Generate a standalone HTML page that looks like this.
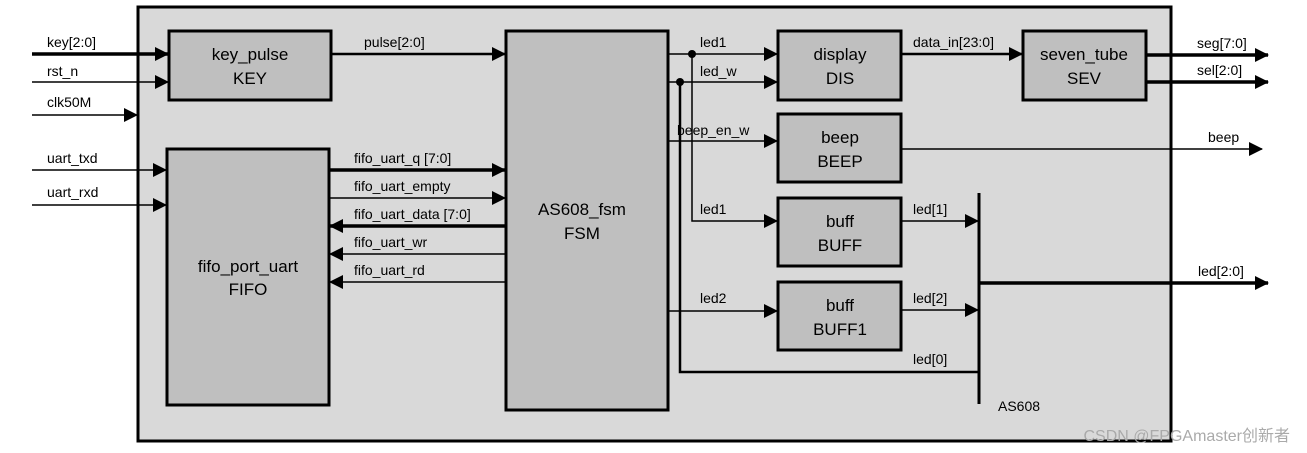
<!DOCTYPE html>
<html><head><style>body{margin:0;background:#fff}svg{display:block}text{font-family:"Liberation Sans","Noto Sans CJK SC",sans-serif}</style></head><body>
<svg width="1307" height="453" viewBox="0 0 1307 453">
<defs><marker id="a" markerWidth="10" markerHeight="10" refX="9" refY="5" orient="auto" markerUnits="userSpaceOnUse"><path d="M0,0L10,5L0,10z" fill="#000"/></marker>
<marker id="b" markerWidth="14" markerHeight="14" refX="13" refY="7" orient="auto" markerUnits="userSpaceOnUse"><path d="M0,0L14,7L0,14z" fill="#000"/></marker></defs>
<rect x="138" y="7" width="1033" height="434" fill="#d9d9d9" stroke="#000" stroke-width="3"/>
<g fill="#bfbfbf" stroke="#000" stroke-width="3">
<rect x="169" y="31" width="162" height="69"/><rect x="167" y="149" width="162" height="256"/><rect x="506" y="31" width="162" height="379"/>
<rect x="778" y="31" width="123" height="69"/><rect x="1023" y="31" width="123" height="69"/><rect x="778" y="114" width="123" height="68"/>
<rect x="778" y="198" width="123" height="68"/><rect x="778" y="282" width="123" height="68"/></g>
<g stroke="#000" fill="none">
<path d="M32,54H168" stroke-width="3.5" marker-end="url(#b)"/>
<path d="M32,82H168" stroke-width="1.5" marker-end="url(#b)"/>
<path d="M32,115H137" stroke-width="1.5" marker-end="url(#b)"/>
<path d="M32,170H166" stroke-width="1.5" marker-end="url(#b)"/>
<path d="M32,205H166" stroke-width="1.5" marker-end="url(#b)"/>
<path d="M331,54H505" stroke-width="2.5" marker-end="url(#b)"/>
<path d="M329,170H505" stroke-width="3.5" marker-end="url(#b)"/>
<path d="M329,198H505" stroke-width="1.5" marker-end="url(#b)"/>
<path d="M506,226H330" stroke-width="3.5" marker-end="url(#b)"/>
<path d="M506,254H330" stroke-width="1.5" marker-end="url(#b)"/>
<path d="M506,282H330" stroke-width="1.5" marker-end="url(#b)"/>
<path d="M668,54H777" stroke-width="1.5" marker-end="url(#b)"/>
<path d="M668,82H777" stroke-width="1.5" marker-end="url(#b)"/>
<path d="M668,141H777" stroke-width="1.5" marker-end="url(#b)"/>
<path d="M692,54V221H777" stroke-width="1.5" marker-end="url(#b)"/>
<path d="M668,311H777" stroke-width="1.5" marker-end="url(#b)"/>
<path d="M680,82V372H979" stroke-width="2.5"/>
<path d="M901,54H1022" stroke-width="2.5" marker-end="url(#b)"/>
<path d="M1146,55H1268" stroke-width="3.5" marker-end="url(#b)"/>
<path d="M1146,82H1268" stroke-width="3.5" marker-end="url(#b)"/>
<path d="M901,149H1262" stroke-width="1.5" marker-end="url(#b)"/>
<path d="M901,221H978" stroke-width="1.5" marker-end="url(#b)"/>
<path d="M901,310H978" stroke-width="1.5" marker-end="url(#b)"/>
<path d="M979,193V404" stroke-width="3"/>
<path d="M979,283H1268" stroke-width="3.5" marker-end="url(#b)"/>
</g>
<circle cx="692" cy="54" r="4"/><circle cx="680" cy="82" r="4"/>
<g font-size="14" fill="#000">
<text x="47" y="47">key[2:0]</text><text x="47" y="76">rst_n</text><text x="47" y="107">clk50M</text>
<text x="47" y="163">uart_txd</text><text x="47" y="197">uart_rxd</text>
<text x="364" y="47">pulse[2:0]</text>
<text x="354" y="163">fifo_uart_q [7:0]</text><text x="354" y="191">fifo_uart_empty</text>
<text x="354" y="219">fifo_uart_data [7:0]</text><text x="354" y="247">fifo_uart_wr</text><text x="354" y="275">fifo_uart_rd</text>
<text x="700" y="47">led1</text><text x="700" y="76">led_w</text><text x="677" y="135">beep_en_w</text>
<text x="700" y="214">led1</text><text x="700" y="303">led2</text>
<text x="913" y="47">data_in[23:0]</text><text x="1197" y="48">seg[7:0]</text><text x="1197" y="75">sel[2:0]</text>
<text x="1208" y="142">beep</text><text x="913" y="214">led[1]</text><text x="913" y="303">led[2]</text><text x="913" y="364">led[0]</text>
<text x="1198" y="276">led[2:0]</text><text x="998" y="411">AS608</text>
</g>
<g font-size="17" fill="#000" text-anchor="middle">
<text x="250" y="60">key_pulse</text><text x="250" y="84">KEY</text>
<text x="248" y="272">fifo_port_uart</text><text x="248" y="295">FIFO</text>
<text x="582" y="215">AS608_fsm</text><text x="582" y="239">FSM</text>
<text x="840" y="60">display</text><text x="840" y="84">DIS</text>
<text x="1084" y="60">seven_tube</text><text x="1084" y="84">SEV</text>
<text x="840" y="143">beep</text><text x="840" y="167">BEEP</text>
<text x="840" y="227">buff</text><text x="840" y="251">BUFF</text>
<text x="840" y="311">buff</text><text x="840" y="335">BUFF1</text>
</g>
<text x="1290" y="441" font-size="16" fill="#aaa" text-anchor="end">CSDN @FPGAmaster创新者</text>
</svg>
</body></html>
